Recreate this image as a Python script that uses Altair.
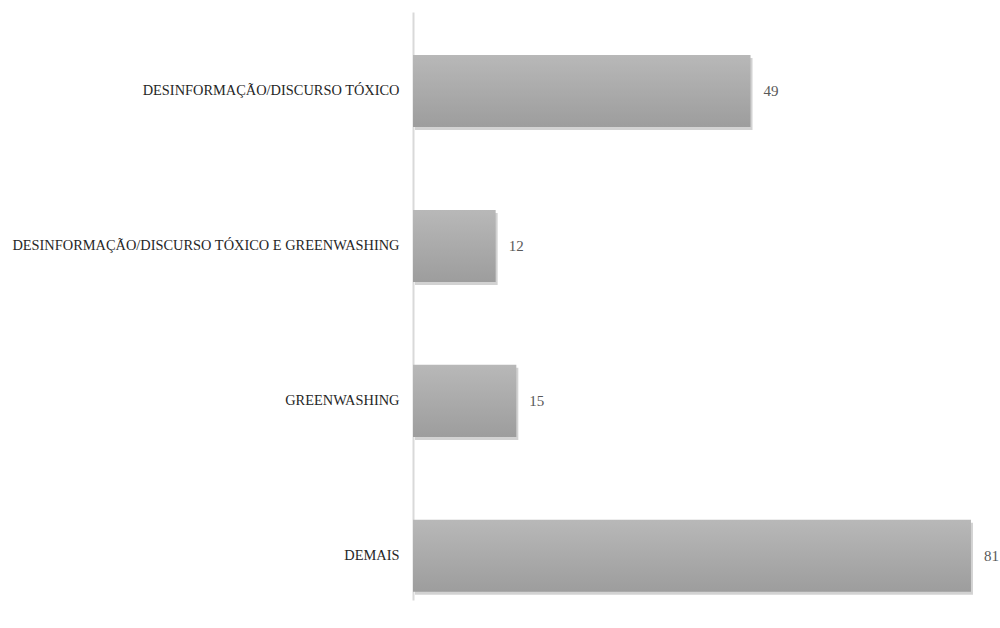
import altair as alt
import pandas as pd

categories = [
    "Desinformação/discurso tóxico",
    "Desinformação/discurso tóxico e greenwashing",
    "Greenwashing",
    "Demais",
]
values = [49, 12, 15, 81]

df = pd.DataFrame({"categoria": categories, "valor": values})

FONT = "Liberation Serif"

y_enc = alt.Y(
    "categoria:N",
    sort=categories,
    title=None,
    scale=alt.Scale(paddingInner=0.535, paddingOuter=0.165, align=0.84),
    axis=alt.Axis(
        labelExpr="upper(datum.label)",
        labelFont=FONT,
        labelFontSize=14.4,
        labelColor="#262626",
        labelPadding=14,
        ticks=False,
        grid=False,
        domainColor="#d9d9d9",
        domainWidth=2,
        labelLimit=500,
    ),
)
x_enc = alt.X("valor:Q", scale=alt.Scale(domain=[0, 84.2]), axis=None)

base = alt.Chart(df).encode(y=y_enc, x=x_enc)

shadow = base.mark_bar(color="#7f7f7f", opacity=0.35, xOffset=2, yOffset=3)

bars = base.mark_bar(
    color=alt.Gradient(
        gradient="linear",
        stops=[
            alt.GradientStop(color="#b8b8b8", offset=0),
            alt.GradientStop(color="#9d9d9d", offset=1),
        ],
        x1=0, x2=0, y1=0, y2=1,
    )
)

labels = base.mark_text(
    align="left", baseline="middle", dx=13, font=FONT, fontSize=15, color="#595959"
).encode(text="valor:Q")

chart = (
    (shadow + bars + labels)
    .properties(
        width=580,
        height=588,
        background="white",
        autosize=alt.AutoSizeParams(type="none"),
        padding={"left": 413, "top": 12, "right": 7, "bottom": 28},
    )
    .configure_view(stroke=None, strokeWidth=0)
)

chart.save("out.html", embed_options={"renderer": "svg", "actions": False})
